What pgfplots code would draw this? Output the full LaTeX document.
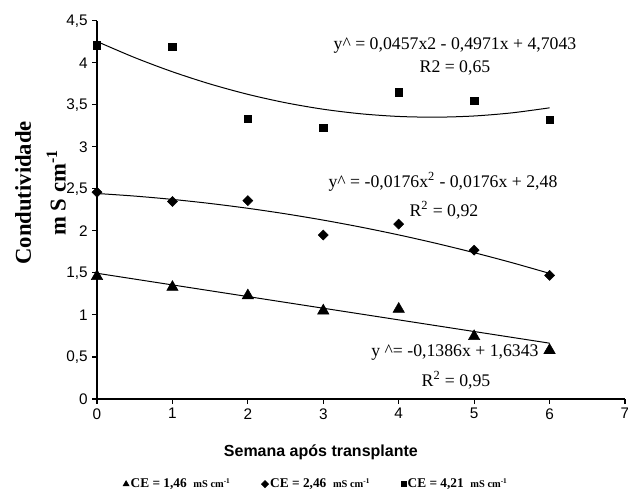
\documentclass[border=0pt]{standalone}
\usepackage{fontspec}
\setmainfont{Liberation Serif}
\newfontfamily\arial{Liberation Sans}
\usepackage{pgfplots}
\pgfplotsset{compat=1.18}
\begin{document}
\begin{tikzpicture}[x=1pt,y=1pt]
\begin{axis}[
  at={(0,0)}, anchor=south west,
  scale only axis, width=396pt, height=283.7pt,
  xmin=0, xmax=7, ymin=0, ymax=4.5,
  axis x line*=bottom, axis y line*=left,
  axis line style={black, line width=0.8pt},
  xtick={0,1,2,3,4,5,6,7}, ytick={0,0.5,1,1.5,2,2.5,3,3.5,4,4.5},
  tick style={black, line width=0.8pt},
  major tick length=3.5pt,
  tick align=outside,
  ticklabel style={font=\arial\fontsize{11.5}{13}\selectfont},
  /pgf/number format/use comma,
  /pgf/number format/assume math mode=true,
  clip=false,
  xlabel={Semana após transplante},
  xlabel style={font=\arial\bfseries\fontsize{12}{14}\selectfont, at={(axis description cs:0.424,-0.140)}, anchor=center},
  ylabel={Condutividade\\m S cm\textsuperscript{-1}},
  ylabel style={font=\bfseries\fontsize{17}{26}\selectfont, align=center, at={(axis description cs:-0.107,0.545)}, anchor=center},
  legend columns=3,
  legend style={draw=none, fill=none, at={(axis description cs:0.415,-0.225)}, anchor=center,
    font=\bfseries\fontsize{10}{12}\selectfont,
    /tikz/every even column/.append style={column sep=22pt},
    nodes={inner sep=1.2pt}},
]
% legend images
\addlegendimage{only marks, mark=triangle*, mark size=2.6pt, black}
\addlegendentry{CE = 1,46\ \ {\fontsize{7.8}{9}\selectfont mS cm\textsuperscript{-1}}}
\addlegendimage{only marks, mark=square*, mark size=1.9pt, mark options={rotate=45}, black}
\addlegendentry{CE = 2,46\ \ {\fontsize{7.8}{9}\selectfont mS cm\textsuperscript{-1}}}
\addlegendimage{only marks, mark=square*, mark size=1.9pt, black}
\addlegendentry{CE = 4,21\ \ {\fontsize{7.8}{9}\selectfont mS cm\textsuperscript{-1}}}

% trend lines
\addplot[black, line width=0.75pt, smooth, forget plot] coordinates {
(0,4.2529)(0.5,4.0615)(1,3.8929)(1.5,3.7472)(2,3.6243)(2.5,3.5243)(3,3.4471)(3.5,3.3928)(4,3.3613)(4.5,3.3527)(5,3.3669)(5.5,3.4040)(6,3.4639)};
\addplot[black, line width=0.75pt, smooth, forget plot] coordinates {
(0,2.4448)(0.5,2.4140)(1,2.3744)(1.5,2.3260)(2,2.2688)(2.5,2.2028)(3,2.1280)(3.5,2.0444)(4,1.9520)(4.5,1.8508)(5,1.7408)(5.5,1.6220)(6,1.4944)};
\addplot[black, line width=0.75pt, forget plot] coordinates {(0,1.4957)(6,0.6641)};

% data
\addplot[only marks, mark=square*, mark size=2.75pt, black, forget plot] coordinates {
(0,4.21)(1,4.19)(2,3.33)(3,3.23)(4,3.65)(5,3.55)(6,3.32)};
\addplot[only marks, mark=square*, mark size=2.65pt, mark options={rotate=45}, black, forget plot] coordinates {
(0,2.46)(1,2.35)(2,2.36)(3,1.95)(4,2.08)(5,1.77)(6,1.47)};
\addplot[only marks, mark=triangle*, mark size=4.9pt, black, forget plot] coordinates {
(0,1.46)(1,1.33)(2,1.23)(3,1.05)(4,1.07)(5,0.745)(6,0.58)};

\begin{scope}[every node/.style={font=\fontsize{13.3}{15}\selectfont, anchor=center, inner sep=0pt}]
\node at (axis cs:4.746,4.211) {y\textasciicircum{} = 0,0457x2 - 0,4971x + 4,7043};
\node at (axis cs:4.746,3.937) {R2 = 0,65};
\node at (axis cs:4.587,2.581) {y\textasciicircum{} = -0,0176x\textsuperscript{2} - 0,0176x + 2,48};
\node at (axis cs:4.600,2.248) {R\textsuperscript{2} = 0,92};
\node at (axis cs:4.746,0.547) {y \textasciicircum= -0,1386x + 1,6343};
\node at (axis cs:4.760,0.226) {R\textsuperscript{2} = 0,95};
\end{scope}
\end{axis}
\pgfresetboundingbox
\path[use as bounding box] (-72.75,-69) rectangle (398.25,299.25);
\end{tikzpicture}
\end{document}
